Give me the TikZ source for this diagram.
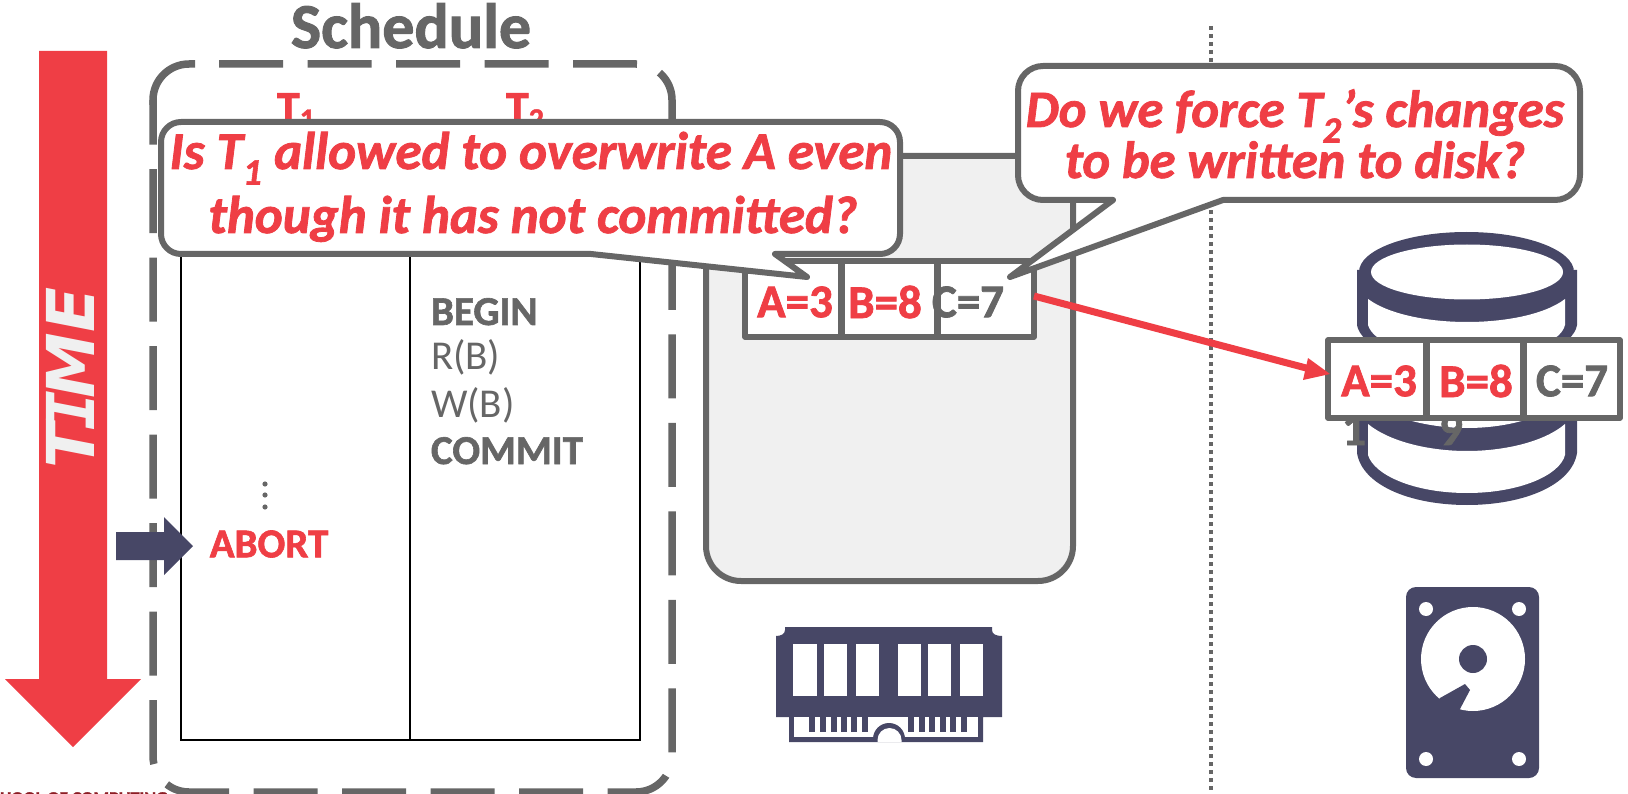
\documentclass[tikz,border=0pt]{standalone}
\usepackage{fontspec}
\setmainfont{Carlito}[BoldFeatures={FakeBold=1.5},BoldItalicFeatures={FakeBold=1.5}]
\newfontfamily\timefont{DejaVu Sans}
\newfontfamily\timemono{DejaVu Sans Mono}
\definecolor{cred}{HTML}{EF3E45}
\definecolor{cgray}{HTML}{666666}
\definecolor{cnavy}{HTML}{474766}
\definecolor{cpale}{HTML}{F0F0F0}
\definecolor{cfoot}{HTML}{8C1D24}
\newcommand{\fs}[1]{\fontsize{#1}{#1}\selectfont}
\tikzset{x=1pt,y=-1pt,
  every node/.style={inner sep=0pt,outer sep=0pt},
  dashbox/.style={draw=cgray,line width=7.5pt,dash pattern=on 64pt off 24.5pt},
  grid/.style={draw=black,line width=1.6pt},
  bubble/.style={draw=cgray,fill=white,line width=6pt,line join=round},
  redq/.style={text=cred,font=\fs{53}\bfseries\itshape,anchor=base},
  redqb/.style={text=cred,font=\fs{52.5}\bfseries\itshape,anchor=base},
  cell/.style={draw=cgray,fill=white,line width=5.5pt,minimum height=76pt,line join=round},
  divider/.style={draw=cgray,line width=7pt},
  cellred/.style={text=cred,font=\fs{47}\bfseries},
  cellgray/.style={text=cgray,font=\fs{47}\bfseries},
  sched/.style={text=cgray,anchor=base west},
  txn/.style={text=cred,font=\fs{46}\bfseries,anchor=base west}}
\begin{document}
\begin{tikzpicture}
\useasboundingbox (0,0) rectangle (1628,794);
% footer
\node[anchor=base west,text=cfoot,font=\fs{18}\bfseries] (foot) at (-18,804) {SCHOOL OF COMPUTING};
% time arrow
\fill[cred] (39,51)--(107,51)--(107,679)--(141,679)--(73,747)--(5,679)--(39,679)--cycle;
\node[rotate=90,text=cpale,font=\timefont\fs{66}\bfseries\itshape] (time) at (70.5,378) {T\kern-7pt{\timemono I}\kern-7pt ME};
% schedule
\node[text=cgray,font=\fs{64}\bfseries,anchor=base] (title) at (411,48) {Schedule};
\draw[dashbox] (219,64) -- (636,64) arc (-90:0:36) -- (672,756) arc (0:90:36) -- (189,792) arc (90:180:36) -- (153,100);
\draw[draw=cgray,line width=7.5pt] (153,105) -- (153,100) arc (180:270:36) -- (195,64);
% table
\draw[grid] (181,150) rectangle (640,740);
\draw[grid] (410,150) -- (410,740);
\node[txn] (t1) at (277,123) {T\raisebox{-6pt}{\fs{30}1}};
\node[txn] (t2) at (506,123) {T\raisebox{-6pt}{\fs{30}2}};
\node[sched,font=\fs{41}\bfseries] (s1) at (431,325) {BEGIN};
\node[sched,font=\fs{41}] (s2) at (431,370) {R(B)};
\node[sched,font=\fs{41}] (s3) at (431,417) {W(B)};
\node[sched,font=\fs{41}\bfseries] (s4) at (431,464) {COMMIT};
\node[text=cred,font=\fs{41}\bfseries] (abort) at (269,544) {ABORT};
\foreach \y in {484,495,507} \fill[cgray] (265,\y) circle (2.6);
\fill[cnavy] (116,532)--(164,532)--(164,517)--(193,546)--(164,575)--(164,560)--(116,560)--cycle;
% memory
\draw[draw=cgray,fill=cpale,line width=6pt,rounded corners=35pt] (706,156) rectangle (1073,581);
\node[cell,minimum width=96pt] (memA) at (793,299) {};
\node[cell,minimum width=96pt] (memB) at (889,299) {};
\node[cell,minimum width=97pt] (memC) at (985.5,299) {};
\node[cellgray] (memCt) at (968,302) {C=7};
\draw[divider] (memA.north east) -- (memA.south east);
\draw[divider] (memB.north east) -- (memB.south east);
\node[cellred] (memAt) at (795,302) {A=3};
\node[cellred] (memBt) at (885,302) {B=8};
% callouts
\draw[bubble] (181,122) -- (880,122) arc (-90:0:20) -- (900,234) arc (0:90:20) -- (775,254) -- (807,277) -- (591,254) -- (181,254) arc (90:180:20) -- (161,142) arc (180:270:20) -- cycle;
\node[redq] (q1a) at (531,169) {Is T\textsubscript{1} allowed to overwrite A even};
\node[redq] (q1b) at (533,233) {though it has not committed?};
\draw[draw=cgray,line width=4pt,dash pattern=on 4pt off 4pt] (1211,26) -- (1211,794);
\draw[bubble] (1043,66) -- (1555,66) arc (-90:0:25) -- (1580,175) arc (0:90:25) -- (1223,200) -- (1010,277) -- (1113,200) -- (1043,200) arc (90:180:25) -- (1018,91) arc (180:270:25) -- cycle;
\node[redqb] (q2a) at (1295,127) {Do we force T\textsubscript{2}’s changes};
\node[redqb] (q2b) at (1295,178) {to be written to disk?};
% database
\fill[cnavy] (1357,270) -- (1357,325) .. controls (1360,345) and (1400,365) .. (1467,365) .. controls (1534,365) and (1574,345) .. (1577,325) -- (1577,270) -- cycle;
\fill[white] (1368,299) .. controls (1390,315) and (1430,322) .. (1467,322) .. controls (1504,322) and (1544,315) .. (1565,299) -- (1565,325) .. controls (1560,345) and (1520,355) .. (1467,355) .. controls (1414,355) and (1374,345) .. (1368,325) -- cycle;
\fill[cnavy] (1466.5,272) ellipse (107.5 and 40);
\fill[white] (1467,272) ellipse (96 and 27.5);
\fill[cnavy] (1357,415) -- (1357,453) .. controls (1362,485) and (1410,505) .. (1467,505) .. controls (1524,505) and (1572,485) .. (1577,453) -- (1577,415) -- cycle;
\fill[white] (1368,424) .. controls (1390,442) and (1430,451) .. (1467,451) .. controls (1504,451) and (1544,442) .. (1565,424) -- (1565,455) .. controls (1560,475) and (1520,493) .. (1467,493) .. controls (1414,493) and (1374,475) .. (1368,455) -- cycle;
\fill[white] (1400,410) -- (1408,420) .. controls (1430,426) and (1450,428) .. (1467,428) .. controls (1484,428) and (1505,426) .. (1525,420) -- (1533,410) -- cycle;
\node[cellgray,anchor=base] (v1) at (1354,445) {1};
\node[cellgray,anchor=base] (v9) at (1451,445) {9};
\node[cell,minimum width=98pt,minimum height=78pt] (dskA) at (1377,379) {};
\node[cell,minimum width=97pt,minimum height=78pt] (dskB) at (1474.5,379) {};
\node[cell,minimum width=97pt,minimum height=78pt] (dskC) at (1571.5,379) {};
\draw[divider] (dskA.north east) -- (dskA.south east);
\draw[divider] (dskB.north east) -- (dskB.south east);
\node[cellred] (dskAt) at (1379,381) {A=3};
\node[cellred] (dskBt) at (1476,381) {B=8};
\node[cellgray] (dskCt) at (1572,381) {C=7};
% write arrow
\coordinate (wtip) at (1330,374);
\coordinate (wneck) at (1308,368.5);
\draw[draw=cred,line width=7pt] ([yshift=3pt]memC.east) -- (wneck);
\fill[cred] (wtip) -- (1308,358) -- (1303,380) -- cycle;
% RAM
\fill[cnavy] (785,627) -- (992,627) -- (992,630) .. controls (992,634) and (996,636) .. (1002,636) -- (1002,717) -- (983,717) -- (983,742) -- (789,742) -- (789,717) -- (776,717) -- (776,636) .. controls (781,636) and (785,634) .. (785,630) -- cycle;
\foreach \a/\b in {793/817,824/847,856/879,898/921,928/951,960/983} \fill[white] (\a,644) rectangle (\b,696);
\fill[white] (794,717) rectangle (978,737);
\foreach \a in {809,820,831,841,851,862,908,919,929,940,950,961} \fill[cnavy] (\a,717) rectangle +(5.5,15);
\fill[cnavy] (873,739) arc (180:360:16) -- cycle;
\fill[white] (877.5,742) -- (877.5,740) arc (180:360:12) -- (901.5,742) -- cycle;
% HDD
\fill[cnavy,rounded corners=10pt] (1406,587) rectangle (1539,778);
\fill[white] (1473,659) circle (52);
\fill[cnavy] (1473,659) circle (14);
\fill[cnavy] (1440,698) -- (1465,684) -- (1470,690) -- (1460,709) -- (1450,730) -- (1420,720) -- cycle;
\foreach \p/\q in {1426/609,1519/609,1426/759,1519/759} \fill[white] (\p,\q) circle (7);
\end{tikzpicture}
\end{document}
